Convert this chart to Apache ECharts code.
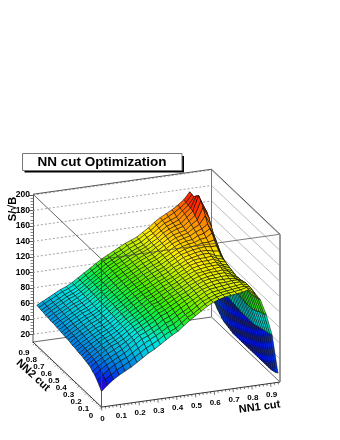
<!DOCTYPE html>
<html><head><meta charset="utf-8">
<style>html,body{margin:0;padding:0;background:#fff}#c{width:340px;height:440px}</style>
<script src="https://cdn.jsdelivr.net/npm/echarts@6/dist/echarts.min.js"></script>
</head><body><div id="c"></div>
<script>
const nn1Cuts=[0,0.031,0.063,0.094,0.125,0.157,0.188,0.219,0.25,0.282,0.313,0.344,0.376,0.407,0.438,0.47,0.501,0.532,0.563,0.595,0.626,0.657,0.689,0.72,0.751,0.783,0.814,0.845,0.876,0.908,0.939];
const nn2Cuts=[0,0.03,0.06,0.09,0.12,0.15,0.18,0.21,0.24,0.27,0.3,0.33,0.36,0.39,0.42,0.45,0.48,0.51,0.54,0.57,0.6,0.63,0.66,0.69,0.72,0.75,0.78,0.81,0.84,0.87];
// S/sqrt(B): one list per NN1 cut, running along the NN2 cuts
const sb00=[30,35,39,43,45,48,49,50,51,52,52,53,54,54,55,56,56,57,57,58,58,59,59,59,60,60,61,61,62,62];
const sb01=[37,42,45,49,51,53,54,55,56,57,57,58,58,59,60,60,61,61,62,62,63,63,63,64,64,65,65,65,66,66];
const sb02=[43,47,51,54,56,58,59,60,61,61,62,62,63,64,64,65,65,66,66,67,67,67,68,68,68,69,69,69,70,70];
const sb03=[48,52,56,58,60,62,64,64,65,66,66,67,67,68,68,69,69,70,70,71,71,71,72,72,72,73,73,73,74,74];
const sb04=[52,56,60,62,64,66,68,68,69,70,70,71,71,72,72,73,73,74,74,75,75,75,76,76,76,77,77,77,78,78];
const sb05=[56,60,63,66,68,70,71,72,72,73,74,74,75,75,76,76,77,77,77,78,78,79,79,79,80,80,80,80,81,81];
const sb06=[61,65,68,71,73,74,75,76,77,77,78,78,79,79,80,80,81,81,81,82,82,83,83,83,84,84,84,84,85,85];
const sb07=[66,70,73,76,78,79,80,81,82,82,83,83,84,84,85,85,86,86,86,87,87,88,88,88,89,89,89,89,90,90];
const sb08=[71,75,78,81,83,84,85,86,87,87,88,88,89,89,90,90,91,91,91,92,92,93,93,93,94,94,94,94,95,95];
const sb09=[75,79,82,84,86,88,89,90,91,91,92,93,93,94,94,95,95,96,96,97,97,97,98,98,98,99,99,99,100,100];
const sb10=[80,83,86,88,90,92,93,94,95,96,96,97,98,98,99,99,100,100,101,101,102,102,103,103,103,104,104,104,105,105];
const sb11=[85,88,90,92,94,96,97,98,99,100,101,101,102,103,103,104,104,105,105,106,106,107,107,108,108,109,109,109,110,110];
const sb12=[90,92,95,97,99,101,102,103,104,105,105,106,106,107,107,108,108,109,109,110,110,111,111,112,112,113,113,113,114,114];
const sb13=[94,95,98,100,102,104,105,106,107,107,108,109,109,110,111,111,112,112,113,113,114,114,115,115,116,116,117,117,118,118];
const sb14=[100,101,103,105,106,108,109,110,111,111,112,113,113,114,114,115,116,116,117,117,118,118,119,119,120,120,120,121,121,122];
const sb15=[106,107,108,109,111,112,113,114,115,115,116,116,117,118,118,119,119,120,120,121,121,122,123,123,124,124,124,125,126,126];
const sb16=[111,111,112,113,115,116,117,118,118,119,119,120,120,121,121,122,123,123,124,124,125,125,126,126,127,127,127,128,129,129];
const sb17=[116,116,117,118,119,120,120,121,122,122,123,123,124,124,125,125,126,126,127,127,128,128,129,129,130,130,130,131,132,132];
const sb18=[121,121,122,122,123,124,125,125,126,126,127,127,128,128,129,130,130,131,131,132,132,133,133,134,134,135,135,136,137,137];
const sb19=[125,125,125,126,127,128,128,129,129,130,130,131,131,132,133,133,134,135,135,136,136,137,138,138,139,139,140,140,141,142];
const sb20=[128,128,128,129,130,130,131,132,132,133,134,134,135,136,136,137,138,139,139,140,141,142,142,143,144,145,145,146,147,148];
const sb21=[130,130,130,130,131,132,133,134,134,135,135,136,137,138,139,139,140,141,142,143,144,145,146,147,148,149,150,151,152,153];
const sb22=[131,131,131,131,132,133,134,134,135,136,136,137,138,139,140,141,142,143,144,145,146,147,148,149,151,152,153,154,156,157];
const sb23=[132,132,132,132,133,133,134,135,136,136,137,138,138,139,140,142,143,144,145,146,147,149,150,151,153,154,156,157,160,161];
const sb24=[133,133,133,133,134,134,134,135,136,137,138,138,139,140,141,142,143,145,147,149,151,153,155,157,159,161,163,164,165,166];
const sb25=[135,135,134,134,134,134,133,133,133,134,134,135,135,136,137,138,141,144,147,150,153,156,159,162,165,168,169,170,171,172];
const sb26=[130,131,132,132,132,131,130,130,129,130,131,132,133,134,135,136,140,144,149,155,158,161,169,177,183,187,184,180,180,181];
const sb27=[120,119,118,117,116,116,116,116,116,117,118,119,120,121,122,124,126,129,133,138,143,148,155,163,168,170,170,170,169,170];
const sb28=[100,98,97,95,93,92,90,90,90,90,91,91,92,93,94,95,97,99,101,104,107,111,115,120,123,125,124,122,119,116];
const sb29=[72,71,70,69,68,67,66,65,64,64,64,64,64,64,64,65,65,66,66,67,67,68,69,70,71,72,72,71,70,68];
const sb30=[22,20,19,18,18,18,18,18,18,18,18,18,18,18,18,18,18,18,18,18,18,19,20,21,22,24,27,30,34,38];
const surface=[sb00,sb01,sb02,sb03,sb04,sb05,sb06,sb07,sb08,sb09,sb10,sb11,sb12,sb13,sb14,sb15,sb16,sb17,sb18,sb19,sb20,sb21,sb22,sb23,sb24,sb25,sb26,sb27,sb28,sb29,sb30];
const sbTicks=[20,40,60,80,100,120,140,160,180,200];
const nn1Ticks=[0,0.1,0.2,0.3,0.4,0.5,0.6,0.7,0.8,0.9];
const nn2Ticks=[0,0.1,0.2,0.3,0.4,0.5,0.6,0.7,0.8,0.9];
const paletteZ=[15,30,42,55,70,82,95,110,125,138,150,165,175,185];
const paletteC=['#5a00b8','#3c00d8','#0018e8','#0078e0','#00c0e0','#00e6e0','#00f060','#40f000','#b0f000','#fff000','#ffb400','#ff7800','#ff3000','#ee0000'];

const NN1_MAX=0.95,NN2_MAX=0.92,Z_FLOOR=10,Z_TOP=201;
const FONT='"Liberation Sans",Arial,sans-serif';
const hex=c=>[1,3,5].map(k=>parseInt(c.substr(k,2),16));
function colour(z){
  if(z<=paletteZ[0])return paletteC[0];
  for(let k=1;k<paletteZ.length;k++){
    if(z<=paletteZ[k]){
      const t=(z-paletteZ[k-1])/(paletteZ[k]-paletteZ[k-1]),a=hex(paletteC[k-1]),b=hex(paletteC[k]);
      return 'rgb('+a.map((q,m)=>Math.round(q+(b[m]-q)*t)).join(',')+')';
    }
  }
  return paletteC[paletteC.length-1];
}
function project(api,u,v,z){
  return api.coord([0.2773+0.7227*u-0.2773*v, z-84*(1-v)+32.3*u]);
}
function cust(items,draw){
  return {type:'custom',coordinateSystem:'cartesian2d',silent:true,clip:false,animation:false,
    data:items.map((_,k)=>[0.5,100,k]),encode:{x:0,y:1},
    renderItem:(p,api)=>draw(items[p.dataIndex],api)};
}
function seg(api,a,b,stroke,w,dash){
  const p=project(api,a[0],a[1],a[2]),q=project(api,b[0],b[1],b[2]);
  return {type:'line',shape:{x1:p[0],y1:p[1],x2:q[0],y2:q[1]},style:{stroke:stroke,lineWidth:w,lineDash:dash||null,fill:null}};
}
const back=[];
sbTicks.forEach(z=>{
  back.push([[0,1,z],[1,1,z],'#8a8a8a',0.8,[2,2]]);
  back.push([[1,1,z],[1,0,z],'#b4b4b4',0.9,null]);
});
back.push([[0,1,Z_FLOOR],[1,1,Z_FLOOR],'#666',1,null]);
back.push([[1,1,Z_FLOOR],[1,0,Z_FLOOR],'#666',1,null]);
back.push([[1,1,Z_FLOOR],[1,1,Z_TOP],'#777',1,null]);
back.push([[0,1,Z_TOP],[1,1,Z_TOP],'#555',1,null]);
back.push([[1,1,Z_TOP],[1,0,Z_TOP],'#555',1,null]);

const cells=[];
for(let j=nn2Cuts.length-2;j>=0;j--)for(let i=nn1Cuts.length-2;i>=0;i--)cells.push([i,j]);

const front=[];
front.push([[0,0,Z_FLOOR],[0,0,Z_TOP],'#444',0.9,null]);
front.push([[0,1,Z_TOP],[0,0,Z_TOP],'#555',0.9,null]);
front.push([[0,0,Z_TOP],[1,0,Z_TOP],'#444',0.7,null]);
front.push([[1,0,Z_FLOOR],[1,0,Z_TOP],'#999',2,null]);
front.push([[0,1,Z_FLOOR],[0,0,Z_FLOOR],'#333',1,null]);
front.push([[0,0,Z_FLOOR],[1,0,Z_FLOOR],'#333',1,null]);
front.push([[0,1,Z_FLOOR],[0,1,20],'#555',1,null]);

const ticks1=[],ticks2=[];
for(let k=0;k<=47;k++)ticks1.push([k*0.02,k%5===0]);
for(let k=0;k<=46;k++)ticks2.push([k*0.02,k%5===0]);

const option={
  animation:false,
  title:{text:'NN cut Optimization',left:102,top:154.5,textAlign:'center',padding:0,
    textStyle:{fontFamily:FONT,fontWeight:'bold',fontSize:13.5,color:'#000',lineHeight:15}},
  grid:{left:33,width:247,top:195,height:139.3,containLabel:false},
  xAxis:{type:'value',min:0,max:1,show:false},
  yAxis:{type:'value',min:20,max:200,interval:20,
    axisLine:{show:true,lineStyle:{color:'#555',width:1}},
    axisTick:{show:true,length:4,lineStyle:{color:'#333',width:0.8}},
    minorTick:{show:true,splitNumber:5,length:2.5,lineStyle:{color:'#555',width:0.7}},
    splitLine:{show:false},minorSplitLine:{show:false},
    axisLabel:{margin:3,fontFamily:FONT,fontWeight:'bold',fontSize:8.5,color:'#000'}},
  graphic:[
    {type:'rect',shape:{x:24.5,y:156,width:159.5,height:16.5},style:{fill:'#000'},z:0},
    {type:'rect',shape:{x:22.5,y:153.5,width:159.5,height:17},style:{fill:'#fff',stroke:'#777',lineWidth:1},z:1},
    {type:'text',x:13,y:209,rotation:Math.PI/2,style:{text:'S/√B',font:'bold 11px '+FONT,fill:'#000',align:'center',verticalAlign:'middle'},z:10}
  ],
  series:[
    cust(back,(s,api)=>seg(api,s[0],s[1],s[2],s[3],s[4])),
    cust(cells,(c,api)=>{
      const i=c[0],j=c[1];
      const P=(a,b)=>project(api,nn1Cuts[a]/NN1_MAX,nn2Cuts[b]/NN2_MAX,surface[a][b]);
      const m=(surface[i][j]+surface[i+1][j]+surface[i][j+1]+surface[i+1][j+1])/4;
      return {type:'polygon',shape:{points:[P(i,j),P(i+1,j),P(i+1,j+1),P(i,j+1)]},
        style:{fill:colour(m),stroke:'#000',lineWidth:0.55}};
    }),
    cust(front,(s,api)=>seg(api,s[0],s[1],s[2],s[3],s[4])),
    cust(ticks1,(t,api)=>{
      const p=project(api,t[0]/NN1_MAX,0,Z_FLOOR),n=t[1]?3.5:2;
      return {type:'line',shape:{x1:p[0],y1:p[1],x2:p[0]+0.3,y2:p[1]+n},style:{stroke:'#333',lineWidth:0.7}};
    }),
    cust(ticks2,(t,api)=>{
      const p=project(api,0,t[0]/NN2_MAX,Z_FLOOR),n=t[1]?2.5:1.5;
      return {type:'line',shape:{x1:p[0],y1:p[1],x2:p[0]-n*0.7,y2:p[1]+n*0.7},style:{stroke:'#444',lineWidth:0.6}};
    }),
    cust(nn1Ticks,(t,api)=>{
      const p=project(api,t/NN1_MAX,0,Z_FLOOR);
      return {type:'text',x:p[0]+1,y:p[1]+11.5,style:{text:String(t),font:'bold 8px '+FONT,fill:'#000',align:'center',verticalAlign:'middle'}};
    }),
    cust(nn2Ticks,(t,api)=>{
      const p=project(api,0,t/NN2_MAX,Z_FLOOR);
      return {type:'text',x:p[0]-10.5,y:p[1]+9,style:{text:String(t),font:'bold 8px '+FONT,fill:'#000',align:'center',verticalAlign:'middle'}};
    }),
    cust(['NN1 cut'],(t,api)=>{
      const p=project(api,0.88,0,Z_FLOOR);
      return {type:'text',x:p[0]+1,y:p[1]+22,rotation:0.13,style:{text:t,font:'bold 11px '+FONT,fill:'#000',align:'center',verticalAlign:'middle'}};
    }),
    cust(['NN2 cut'],(t,api)=>{
      const p=project(api,0,0.78,Z_FLOOR);
      return {type:'text',x:p[0]-15,y:p[1]+19,rotation:-0.75,style:{text:t,font:'bold 11px '+FONT,fill:'#000',align:'center',verticalAlign:'middle'}};
    })
  ]
};
echarts.init(document.getElementById('c'),null,{renderer:'canvas'}).setOption(option);
</script></body></html>
